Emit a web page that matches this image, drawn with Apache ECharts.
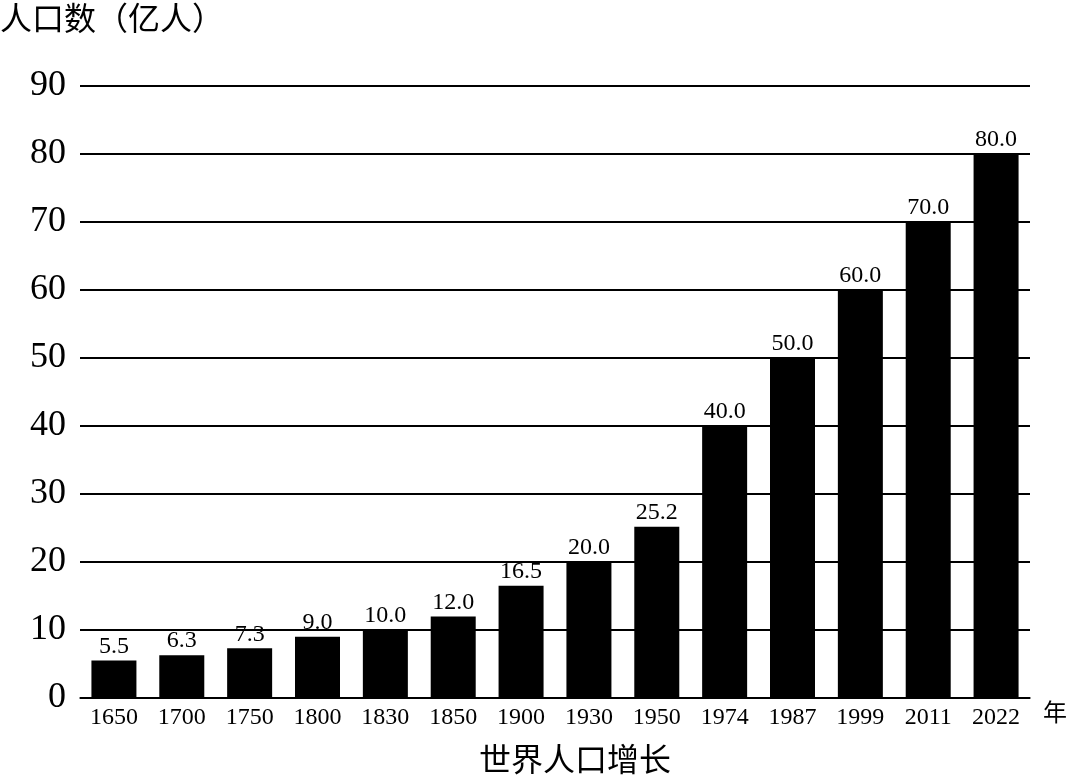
<!DOCTYPE html>
<html>
<head>
<meta charset="utf-8">
<script src="https://cdn.jsdelivr.net/npm/echarts@6/dist/echarts.min.js"></script>
<style>html,body{margin:0;padding:0;background:#fff}#main{width:1080px;height:781px}</style>
</head>
<body>
<div id="main"></div>
<script>
// 年份和人口（亿人）
var years = ['1650','1700','1750','1800','1830','1850','1900','1930','1950','1974','1987','1999','2011','2022'];
var population = [5.5, 6.3, 7.3, 9.0, 10.0, 12.0, 16.5, 20.0, 25.2, 40.0, 50.0, 60.0, 70.0, 80.0];

var chart = echarts.init(document.getElementById('main'));
var serif = '"Liberation Serif", "DejaVu Serif", serif';
var cjk = '"Noto Sans CJK SC", sans-serif';

chart.setOption({
    animation: false,
    grid: { left: 80, right: 50, top: 86, bottom: 83 },
    title: {
        text: '世界人口增长',
        left: 570, top: 738, textAlign: 'center',
        textStyle: { fontFamily: cjk, fontSize: 32, fontWeight: 'normal', color: '#000' }
    },
    graphic: [
        { type: 'text', left: 0, top: 2, style: { text: '人口数（亿人）', font: '32px ' + cjk, fill: '#000' } },
        { type: 'text', left: 1043, top: 700, style: { text: '年', font: '24px ' + cjk, fill: '#000' } }
    ],
    xAxis: {
        type: 'category',
        data: years,
        axisLine: { lineStyle: { color: '#000', width: 1.5 } },
        axisTick: { show: false },
        axisLabel: { fontFamily: serif, fontSize: 24, color: '#000', margin: 8, interval: 0 }
    },
    yAxis: {
        type: 'value',
        min: 0, max: 90, interval: 10,
        axisLine: { show: false },
        axisTick: { show: false },
        splitLine: { lineStyle: { color: '#000', width: 2 } },
        axisLabel: { fontFamily: serif, fontSize: 36, color: '#000', margin: 14 }
    },
    series: [{
        type: 'bar',
        data: population,
        barWidth: 45,
        itemStyle: { color: '#000' },
        label: {
            show: true, position: 'top', distance: 2,
            formatter: function (p) { return p.value.toFixed(1); },
            fontFamily: serif, fontSize: 24, color: '#000'
        }
    }]
});
</script>
</body>
</html>
